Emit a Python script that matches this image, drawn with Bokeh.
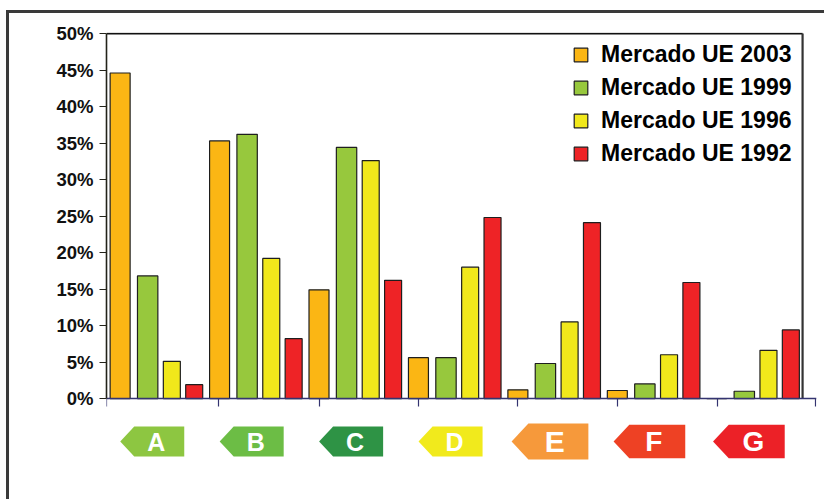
from bokeh.plotting import figure
from bokeh.models import (Range1d, FixedTicker, LinearAxis, Legend, LegendItem,
                          ColumnDataSource, InlineStyleSheet)
from bokeh.core.properties import value
from bokeh.embed import file_html
from bokeh.resources import INLINE

# ---------------- data ----------------
classes = ["A", "B", "C", "D", "E", "F", "G"]
series_names = ["Mercado UE 2003", "Mercado UE 1999", "Mercado UE 1996", "Mercado UE 1992"]
ue2003 = [44.6, 35.3, 14.9, 5.6, 1.2, 1.1, 0.0]
ue1999 = [16.8, 36.2, 34.4, 5.6, 4.8, 2.0, 1.0]
ue1996 = [5.1, 19.2, 32.6, 18.0, 10.5, 6.0, 6.6]
ue1992 = [1.9, 8.2, 16.2, 24.8, 24.1, 15.9, 9.4]
y_ticks = [0, 5, 10, 15, 20, 25, 30, 35, 40, 45, 50]
y_tick_labels = ["0%", "5%", "10%", "15%", "20%", "25%", "30%", "35%", "40%", "45%", "50%"]

# ---------------- styles ----------------
series_colors = ["#FBB614", "#97C83D", "#F1E81B", "#EE2326"]
series_offsets = [0.137, 0.414, 0.657, 0.882]
series_widths = [0.201, 0.205, 0.171, 0.171]
class_colors = ["#8DC641", "#6CBD45", "#2E9345", "#F1EA1C", "#F6993B", "#EE4124", "#EC2127"]
class_scale = [1.0, 1.0, 1.0, 1.0, 1.2, 1.12, 1.12]
FONT = "Liberation Sans"

X_END = 7.14
PX_X = 710.0 / X_END      # pixels per x unit
PX_Y = 7.3                # pixels per percent

p = figure(width=824, height=499, x_range=Range1d(0, X_END), y_range=Range1d(-9.86, 50.15),
           min_border_left=106, min_border_right=8, min_border_top=32, min_border_bottom=29,
           output_backend="svg", toolbar_location=None, x_axis_type=None, y_axis_type=None)
p.outline_line_color = None
p.background_fill_color = "white"
p.border_fill_color = "white"

# outer frame of the whole picture (left and top edges visible)
p.stylesheets = [InlineStyleSheet(css="""
:host { position: relative; overflow: hidden; }
:host::after { content: ""; position: absolute; left: 6px; top: 10px; right: -20px; bottom: -20px;
               border: 3px solid #3a3a3a; pointer-events: none; }
""")]

# y axis
yaxis = LinearAxis(ticker=FixedTicker(ticks=y_ticks), bounds=(0, 50),
                   major_label_overrides={t: l for t, l in zip(y_ticks, y_tick_labels)})
yaxis.axis_line_color = "#23231a"
yaxis.axis_line_width = 1.6
yaxis.major_tick_line_color = "#23231a"
yaxis.major_tick_out = 7
yaxis.major_tick_in = 0
yaxis.minor_tick_line_color = None
yaxis.major_label_standoff = 6
yaxis.major_label_text_font = FONT
yaxis.major_label_text_font_style = "bold"
yaxis.major_label_text_font_size = "18.5px"
yaxis.major_label_text_color = "#111111"
p.add_layout(yaxis, "left")

# x axis (at y = 0), tick marks only, no labels
xaxis = LinearAxis(ticker=FixedTicker(ticks=[], minor_ticks=[0, 1.13, 2.14, 3.14, 4.13, 5.14, 6.14, 7.13]),
                   fixed_location=0)
xaxis.axis_line_color = "#343470"
xaxis.axis_line_width = 1.6
xaxis.major_tick_line_color = None
xaxis.minor_tick_line_color = "#343470"
xaxis.minor_tick_line_width = 1.2
xaxis.minor_tick_out = 8
xaxis.minor_tick_in = 0
p.add_layout(xaxis, "below")

# plot frame top and right
p.segment(x0=[0], y0=[50], x1=[7.0], y1=[50], line_color="#111111", line_width=1.6)
p.segment(x0=[7.0], y0=[0], x1=[7.0], y1=[50], line_color="#333333", line_width=2.2)

# bars
all_series = [ue2003, ue1999, ue1996, ue1992]
renderers = []
for vals, col, off, w in zip(all_series, series_colors, series_offsets, series_widths):
    src = ColumnDataSource(dict(x=[i + off for i in range(len(classes))], top=vals))
    r = p.vbar(x="x", top="top", bottom=0, width=w, source=src, fill_color=col,
               line_color="#1e1e1e", line_width=1.2)
    renderers.append(r)

legend = Legend(items=[LegendItem(label=n, renderers=[r]) for n, r in zip(series_names, renderers)],
                location=(466, 303))
legend.label_text_font = FONT
legend.label_text_font_style = "bold"
legend.label_text_font_size = "23px"
legend.label_text_color = "#000000"
legend.glyph_width = 17
legend.glyph_height = 17
legend.label_standoff = 12
legend.spacing = 6
legend.padding = 0
legend.margin = 0
legend.border_line_color = None
legend.background_fill_alpha = 0
p.add_layout(legend)

# energy class arrows below the axis
ax_xs, ax_ys, lx, ly, lsize = [], [], [], [], []
cy = -5.89
for i, s in enumerate(class_scale):
    cx = i + 0.46
    hw = 32 * s / PX_X
    hh = 15 * s / PX_Y
    tip = 14 * s / PX_X
    ax_xs.append([cx - hw, cx - hw + tip, cx + hw, cx + hw, cx - hw + tip])
    ax_ys.append([cy, cy + hh, cy + hh, cy - hh, cy - hh])
    lx.append(cx + 4 * s / PX_X)
    ly.append(cy)
    lsize.append("%dpx" % round(25 * s))
p.patches(xs=ax_xs, ys=ax_ys, fill_color=class_colors, line_color=None)
p.text(x=lx, y=ly, text=classes, text_color="white", text_font=value(FONT),
       text_font_style="bold", text_font_size=lsize, text_align="center",
       text_baseline="middle")

open("out.html", "w").write(file_html(p, INLINE))
